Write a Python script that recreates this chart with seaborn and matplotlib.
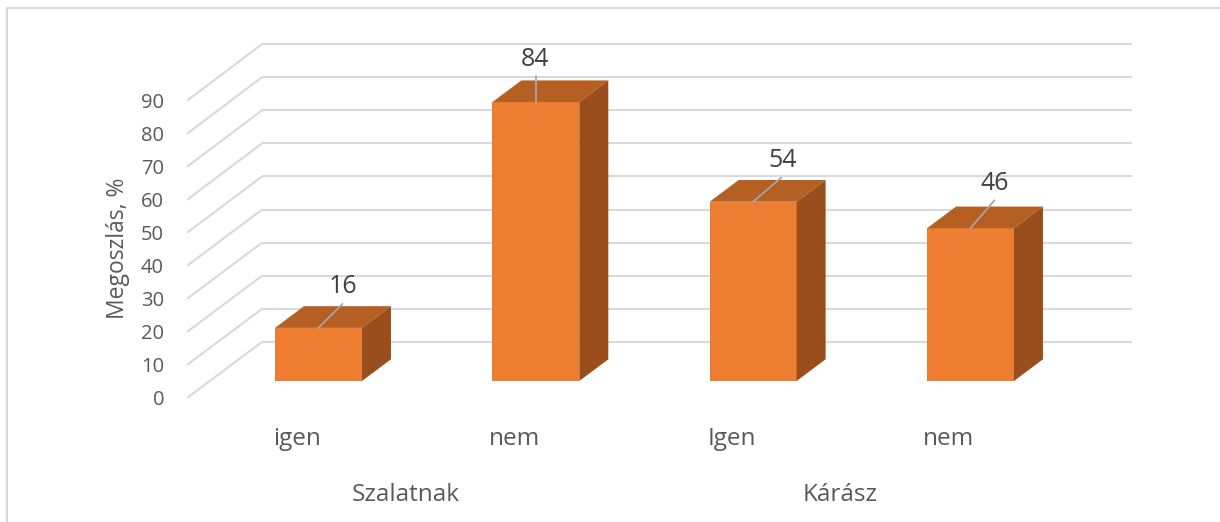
import numpy as np
import pandas as pd
import matplotlib
matplotlib.use("Agg")
import matplotlib.pyplot as plt
from matplotlib.patches import Polygon
from matplotlib.lines import Line2D
import seaborn as sns

# ---------------- data ----------------
groups = ["Szalatnak", "Szalatnak", "Kárász", "Kárász"]
categories = ["igen", "nem", "Igen", "nem"]
values = [16, 84, 54, 46]
group_names = ["Szalatnak", "Kárász"]
ytick_values = [0, 10, 20, 30, 40, 50, 60, 70, 80, 90]
ylabel = "Megoszlás, %"

df = pd.DataFrame({"group": groups, "category": categories, "value": values})
df["key"] = [f"{g}|{c}" for g, c in zip(groups, categories)]
order = list(df["key"])

# ---------------- style ----------------
sns.set_style("white")
plt.rcParams["font.family"] = ["Open Sans", "DejaVu Sans"]

FRONT = "#ED7D31"
TOP = "#B55F22"
SIDE = "#9A4E1C"
GRID = "#D9D9D9"
TICK = "#595959"
LABEL = "#404040"

W, H = 1220, 522
fig = plt.figure(figsize=(W / 100, H / 100), dpi=100)
ax_left_px, ax_right_px = 187, 1132
ax = fig.add_axes([ax_left_px / W, 0, (ax_right_px - ax_left_px) / W, 1])

sns.barplot(data=df, x="key", y="value", order=order, width=0.4,
            color=FRONT, saturation=1, ax=ax, zorder=3)

# pixel mapping (bar centres at 318.5 px, 217.33 px per category; value 0 at py 381, 3.32 px/unit)
px_per_cat = 217.33
px_per_val = 3.32
x0_px = 318.5
y0_py = 381
ax.set_xlim((ax_left_px - x0_px) / px_per_cat, (ax_right_px - x0_px) / px_per_cat)
ax.set_ylim((y0_py - H) / px_per_val, y0_py / px_per_val)

def front(v):
    return -5.12 + v * 0.995

def back(v):
    return 11.75 + v * 0.997

xf = (187 - x0_px) / px_per_cat
xb = (262 - x0_px) / px_per_cat
xr = (1132 - x0_px) / px_per_cat

# back wall + left wall gridlines
for v in ytick_values:
    ax.plot([xf, xb], [front(v), back(v)], color=GRID, lw=1.5, zorder=1,
            solid_capstyle="butt")
    ax.plot([xb, xr], [back(v), back(v)], color=GRID, lw=1.5, zorder=1,
            solid_capstyle="butt")

# 3D faces of bars
ddx = 29 / px_per_cat
ddy = 21.7 / px_per_val
for p in ax.patches[:len(values)]:
    x0 = p.get_x()
    x1 = x0 + p.get_width()
    h = p.get_height()
    p.set_linewidth(0)
    ax.add_patch(Polygon([(x0, h), (x0 + ddx, h + ddy), (x1 + ddx, h + ddy), (x1, h)],
                         closed=True, facecolor=TOP, edgecolor="none", zorder=3))
    ax.add_patch(Polygon([(x1, 0), (x1, h), (x1 + ddx, h + ddy), (x1 + ddx, ddy)],
                         closed=True, facecolor=SIDE, edgecolor="none", zorder=3))

# data labels with leader lines (pixel offsets)
line_off = [(24, 24), (0, 26), (28, 24), (24, 28)]
text_off = [(24.5, 35), (-1, 36.5), (29, 34.5), (24, 38)]
for p, v, lo, to in zip(ax.patches[:len(values)], values, line_off, text_off):
    cx = p.get_x() + p.get_width() / 2
    top = p.get_height()
    sx, sy = ax.transData.transform((cx, top))
    ex, ey = ax.transData.inverted().transform((sx + lo[0], sy + lo[1]))
    ax.plot([cx, ex], [top, ey], color="#A6A6A6", lw=1.3, zorder=4)
    tx, ty = ax.transData.inverted().transform((sx + to[0], sy + to[1]))
    ax.text(tx, ty, f"{v}", ha="center", va="baseline", fontsize=18,
            color=LABEL, zorder=5)

# y ticks on front plane
ax.set_yticks([front(v) for v in ytick_values])
ax.set_yticklabels([str(v) for v in ytick_values])
ax.tick_params(axis="y", length=0, pad=16.5, labelsize=14.5, labelcolor=TICK)
ax.set_xticks([])
ax.set_xlabel("")
ax.set_ylabel("")
for s in ax.spines.values():
    s.set_visible(False)
ax.patch.set_alpha(0)

# category labels
cat_shift = -21.5 / px_per_cat
cat_y = (y0_py - 445) / px_per_val
for i, c in enumerate(categories):
    ax.text(i + cat_shift, cat_y, c, ha="center", va="baseline", fontsize=17.5,
            color=TICK, clip_on=False)

grp_y = (y0_py - 500.7) / px_per_val
for gname in group_names:
    idx = [i for i, g in enumerate(groups) if g == gname]
    gx = np.mean(idx) + cat_shift
    ax.text(gx, grp_y, gname, ha="center", va="baseline", fontsize=17.5,
            color=TICK, clip_on=False)

# y-axis title
fig.text(117.5 / W, 1 - 248 / H, ylabel, rotation=90, ha="center", va="center",
         fontsize=16.5, color=TICK)

# chart-area border (top & left visible)
fig.add_artist(Line2D([7 / W, 7 / W], [0, 1 - 8 / H], transform=fig.transFigure,
                      color=GRID, lw=1.5))
fig.add_artist(Line2D([7 / W, 1], [1 - 8 / H, 1 - 8 / H], transform=fig.transFigure,
                      color=GRID, lw=1.5))

fig.savefig("out.png", dpi=100)
